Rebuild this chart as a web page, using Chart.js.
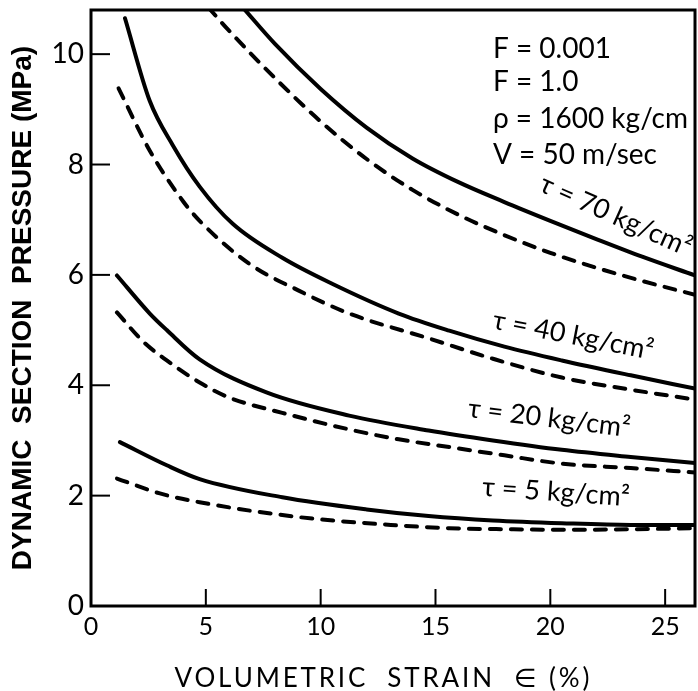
<!DOCTYPE html>
<html>
<head>
<meta charset="utf-8">
<script src="https://cdn.jsdelivr.net/npm/chart.js@4"></script>
<style>
  html, body { margin: 0; padding: 0; background: #fff; }
  #wrap { width: 698px; height: 691px; position: relative; }
</style>
</head>
<body>
<div id="wrap"><canvas id="c" width="698" height="691"></canvas></div>
<script>
// ---- data ----
const xTicks = [0, 5, 10, 15, 20, 25];
const yTicks = [0, 2, 4, 6, 8, 10];

const tau70SolidX  = [6.6, 8.0, 10.0, 12.0, 14.0, 16.0, 18.0, 20.0, 22.0, 24.0, 26.3];
const tau70SolidY  = [10.85, 10.19, 9.37, 8.67, 8.11, 7.68, 7.32, 6.98, 6.65, 6.33, 5.99];
const tau70DashX   = [5.1, 6.0, 8.0, 10.0, 12.0, 14.0, 16.0, 18.0, 20.0, 22.0, 24.0, 26.3];
const tau70DashY   = [10.85, 10.43, 9.57, 8.78, 8.10, 7.54, 7.09, 6.72, 6.40, 6.13, 5.89, 5.64];

const tau40SolidX  = [1.48, 2.56, 3.56, 4.73, 6.16, 8.33, 10.5, 13.4, 15.6, 18.0, 20.5, 23.5, 26.3];
const tau40SolidY  = [10.65, 9.15, 8.35, 7.6, 6.93, 6.31, 5.84, 5.3, 4.99, 4.7, 4.45, 4.18, 3.94];
const tau40DashX   = [1.2, 2.56, 4.0, 4.73, 6.9, 9.07, 11.24, 14.7, 17.5, 20.5, 23.5, 26.3];
const tau40DashY   = [9.38, 8.25, 7.34, 6.98, 6.2, 5.71, 5.3, 4.85, 4.48, 4.14, 3.92, 3.74];

const tau20SolidX  = [1.13, 2.56, 3.3, 4.73, 7.64, 11.24, 14.7, 17.5, 20.5, 23.5, 26.3];
const tau20SolidY  = [5.99, 5.3, 5.0, 4.47, 3.87, 3.45, 3.18, 3.0, 2.83, 2.7, 2.59];
const tau20DashX   = [1.13, 2.3, 3.3, 4.73, 6.0, 8.33, 11.24, 13.4, 15.6, 18.0, 20.5, 23.5, 26.3];
const tau20DashY   = [5.32, 4.78, 4.45, 4.05, 3.78, 3.5, 3.2, 3.02, 2.88, 2.73, 2.58, 2.5, 2.42];

const tau5SolidX   = [1.26, 3.3, 4.73, 8.33, 12.0, 14.7, 17.5, 20.5, 23.5, 26.3];
const tau5SolidY   = [2.97, 2.55, 2.3, 1.97, 1.75, 1.63, 1.55, 1.5, 1.47, 1.47];
const tau5DashX    = [1.13, 3.0, 4.73, 9.07, 13.4, 15.6, 18.4, 20.5, 23.5, 26.3];
const tau5DashY    = [2.31, 2.04, 1.88, 1.61, 1.46, 1.41, 1.39, 1.38, 1.39, 1.41];

const curveLabels = [
  { text: 'τ = 70 kg/cm²', x: 22.85, y: 7.07, angle: 24 },
  { text: 'τ = 40 kg/cm²', x: 21.0,  y: 4.9,  angle: 11 },
  { text: 'τ = 20 kg/cm²', x: 19.95, y: 3.4,  angle: 7 },
  { text: 'τ = 5 kg/cm²',  x: 20.25, y: 2.06, angle: 4 }
];
const paramLines = ['F = 0.001', 'F = 1.0', 'ρ = 1600 kg/cm', 'V = 50 m/sec'];
const paramX = 17.5;
const paramY = [9.93, 9.33, 8.66, 8.01];
const xTitle = 'VOLUMETRIC  STRAIN  ∈ (%)';

// ---- build datasets ----
function pts(xs, ys) { return xs.map((x, i) => ({ x: x, y: ys[i] })); }
function solid(xs, ys) {
  return { data: pts(xs, ys), borderColor: '#000', borderWidth: 4, pointRadius: 0,
           cubicInterpolationMode: 'monotone', borderCapStyle: 'round', fill: false };
}
function dashed(xs, ys) {
  return { data: pts(xs, ys), borderColor: '#000', borderWidth: 4, pointRadius: 0,
           borderDash: [11, 10], borderCapStyle: 'round',
           cubicInterpolationMode: 'monotone', fill: false };
}

const decor = {
  id: 'decor',
  beforeDraw(chart) {
    const ctx = chart.ctx;
    ctx.save();
    ctx.fillStyle = '#fff';
    ctx.fillRect(0, 0, chart.width, chart.height);
    ctx.restore();
  },
  afterDraw(chart) {
    const ctx = chart.ctx;
    const a = chart.chartArea;
    const xs = chart.scales.x, ys = chart.scales.y;
    ctx.save();
    // frame
    ctx.strokeStyle = '#000';
    ctx.lineWidth = 3;
    ctx.strokeRect(a.left, a.top, a.right - a.left, a.bottom - a.top);
    // inward ticks
    ctx.lineWidth = 2;
    yTicks.forEach(v => {
      if (v === 0) return;
      const py = ys.getPixelForValue(v);
      ctx.beginPath(); ctx.moveTo(a.left, py); ctx.lineTo(a.left + 19, py); ctx.stroke();
    });
    xTicks.forEach(v => {
      if (v === 0) return;
      const px = xs.getPixelForValue(v);
      ctx.beginPath(); ctx.moveTo(px, a.bottom); ctx.lineTo(px, a.bottom - 17); ctx.stroke();
    });
    // parameter block
    ctx.fillStyle = '#000';
    ctx.font = '28px Lato, "DejaVu Sans", sans-serif';
    ctx.textAlign = 'left';
    ctx.textBaseline = 'alphabetic';
    paramLines.forEach((t, i) => {
      ctx.fillText(t, xs.getPixelForValue(paramX), ys.getPixelForValue(paramY[i]));
    });
    // curve labels
    ctx.font = '27px Lato, "DejaVu Sans", sans-serif';
    ctx.textAlign = 'center';
    ctx.textBaseline = 'middle';
    curveLabels.forEach(l => {
      ctx.save();
      ctx.translate(xs.getPixelForValue(l.x), ys.getPixelForValue(l.y));
      ctx.rotate(l.angle * Math.PI / 180);
      ctx.fillText(l.text, 0, 0);
      ctx.restore();
    });
    // x axis title, spread to the width of the original lettering
    ctx.font = '26px Lato, "DejaVu Sans", sans-serif';
    const target = 415;
    const w = ctx.measureText(xTitle).width;
    const n = [...xTitle].length;
    const sp = Math.max(0, (target - w) / (n - 1));
    ctx.letterSpacing = sp.toFixed(2) + 'px';
    ctx.textAlign = 'left';
    ctx.textBaseline = 'middle';
    ctx.fillText(xTitle, 382 - target / 2, 679);
    ctx.restore();
  }
};

new Chart(document.getElementById('c'), {
  type: 'line',
  data: {
    datasets: [
      solid(tau70SolidX, tau70SolidY), dashed(tau70DashX, tau70DashY),
      solid(tau40SolidX, tau40SolidY), dashed(tau40DashX, tau40DashY),
      solid(tau20SolidX, tau20SolidY), dashed(tau20DashX, tau20DashY),
      solid(tau5SolidX, tau5SolidY),   dashed(tau5DashX, tau5DashY)
    ]
  },
  options: {
    responsive: false,
    animation: false,
    layout: { padding: { left: 6, top: 10, right: 3, bottom: 0 } },
    plugins: { legend: { display: false }, tooltip: { enabled: false } },
    scales: {
      x: {
        type: 'linear', min: 0, max: 26.3,
        grid: { display: false, drawTicks: false },
        border: { display: false },
        afterFit(s) { s.height = 85; s.paddingLeft = 0; s.paddingRight = 0; },
        ticks: { stepSize: 5, includeBounds: false, padding: 6, color: '#000',
                 font: { family: 'Lato, "DejaVu Sans", sans-serif', size: 25 } },
        title: { display: false }
      },
      y: {
        type: 'linear', min: 0, max: 10.8,
        grid: { display: false, drawTicks: false },
        border: { display: false },
        afterFit(s) { s.width = 85; s.paddingTop = 0; s.paddingBottom = 0; },
        ticks: { stepSize: 2, includeBounds: false, padding: 7, color: '#000',
                 font: { family: 'Lato, "DejaVu Sans", sans-serif', size: 28 } },
        title: { display: true, text: 'DYNAMIC  SECTION  PRESSURE (MPa)', color: '#000',
                 padding: { top: 0, bottom: 0 },
                 font: { family: '"Liberation Sans", Arial, sans-serif', size: 28, weight: 'bold', lineHeight: 1.2 } }
      }
    }
  },
  plugins: [decor]
});
</script>
</body>
</html>
